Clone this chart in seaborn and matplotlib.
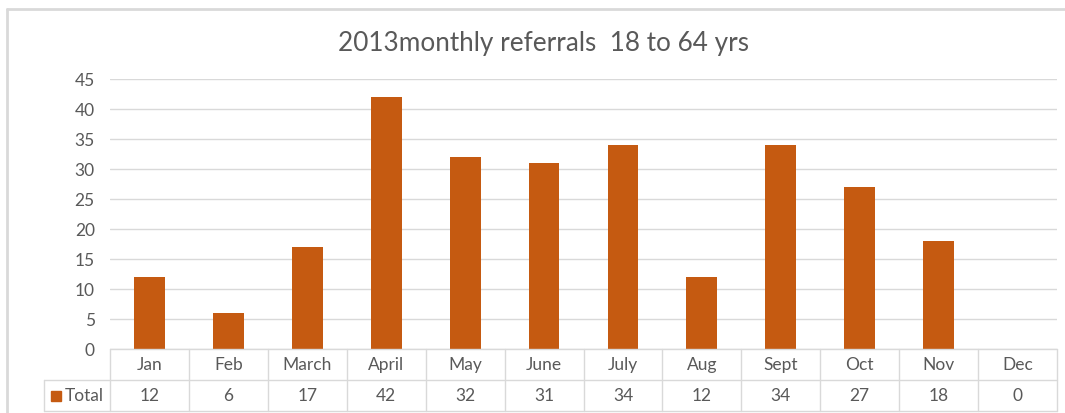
import matplotlib
matplotlib.use("Agg")
import matplotlib.pyplot as plt
from matplotlib.lines import Line2D
import pandas as pd
import seaborn as sns

months = ["Jan", "Feb", "March", "April", "May", "June", "July", "Aug", "Sept", "Oct", "Nov", "Dec"]
totals = [12, 6, 17, 42, 32, 31, 34, 12, 34, 27, 18, 0]
y_ticks = [0, 5, 10, 15, 20, 25, 30, 35, 40, 45]
title = "2013monthly referrals  18 to 64 yrs"
series_name = "Total"

BAR = "#C55A11"
TXT = "#595959"
LINE = "#D9D9D9"
W, H = 1065, 414
FS = 12.5

sns.set_theme(style="white")
plt.rcParams["font.family"] = ["Lato", "DejaVu Sans"]

df = pd.DataFrame({"month": months, "total": totals})

fig = plt.figure(figsize=(W / 100, H / 100), dpi=100)
ax = fig.add_axes([110 / W, (H - 350) / H, 947 / W, 270 / H])

sns.barplot(data=df, x="month", y="total", color=BAR, saturation=1, width=0.39,
            edgecolor="none", ax=ax)

ax.set_xlim(-0.5, len(months) - 0.5)
ax.set_ylim(0, 45)
ax.set_yticks(y_ticks)
ax.set_xticks([])
ax.set_xlabel("")
ax.set_ylabel("")
ax.yaxis.grid(True, color=LINE, lw=1)
ax.set_axisbelow(True)
for s in ax.spines.values():
    s.set_visible(False)
ax.tick_params(axis="y", length=0, pad=11, labelsize=FS, labelcolor=TXT)

# data table below the plot
tr = ax.get_xaxis_transform()
y1 = -31 / 270
y2 = -62 / 270
left = (44 - 110) / 947 * len(months) - 0.5
right = len(months) - 0.5
kw = dict(color=LINE, lw=1, transform=tr, clip_on=False)
ax.plot([-0.5, right], [0, 0], **kw)
ax.plot([left, right], [y1, y1], **kw)
ax.plot([left, right], [y2, y2], **kw)
ax.plot([left, left], [y1, y2], **kw)
for i in range(len(months) + 1):
    ax.plot([i - 0.5, i - 0.5], [0, y2], **kw)
for i, (m, v) in enumerate(zip(months, totals)):
    ax.text(i, y1 / 2, m, ha="center", va="center", fontsize=FS, color=TXT,
            transform=tr, clip_on=False)
    ax.text(i, (y1 + y2) / 2, str(v), ha="center", va="center", fontsize=FS,
            color=TXT, transform=tr, clip_on=False)
mk = (52 + 4.5 - 110) / 947 * len(months) - 0.5
ax.plot([mk], [(y1 + y2) / 2], marker="s", markersize=7, color=BAR,
        transform=tr, clip_on=False, linestyle="none")
ax.text((65 - 110) / 947 * len(months) - 0.5, (y1 + y2) / 2, series_name,
        ha="left", va="center", fontsize=FS, color=TXT, transform=tr, clip_on=False)

# chart frame
fig.add_artist(Line2D([7 / W, 7 / W], [0, 1 - 10 / H], color=LINE, lw=2))
fig.add_artist(Line2D([7 / W, 1], [1 - 10 / H, 1 - 10 / H], color=LINE, lw=2))

fig.text(544 / W, 1 - 44 / H, title, ha="center", va="center", fontsize=18.8, color=TXT)

fig.savefig("out.png", dpi=100)
